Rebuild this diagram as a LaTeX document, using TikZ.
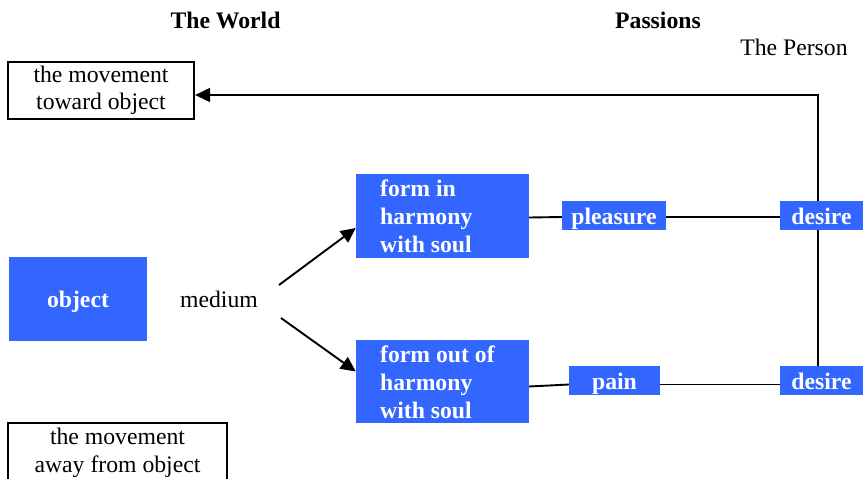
\documentclass[tikz,border=0pt]{standalone}
\usepackage{fontspec}
\setmainfont{Liberation Serif}
\usetikzlibrary{arrows.meta}
\definecolor{boxblue}{RGB}{51,102,255}
\begin{document}
\begin{tikzpicture}[x=1pt,y=-1pt,
  every node/.style={font=\fontsize{23.7}{27.5}\selectfont, inner sep=0pt},
  bluebox/.style={fill=boxblue, inner sep=0pt, text=white, font=\fontsize{23.7}{28}\selectfont\bfseries, text height=21pt, text depth=4pt},
  formbox/.style={fill=boxblue, inner sep=0pt},
  btext/.style={text=white, align=left, font=\fontsize{23.7}{28}\selectfont\bfseries},
  wbox/.style={draw=black, line width=2.2pt, inner sep=0pt, align=center},
  title/.style={font=\fontsize{23.7}{28}\selectfont\bfseries},
  conn/.style={line width=1.9pt},
  arr/.style={conn, -{Triangle[length=15pt,width=14pt]}}
]
\useasboundingbox (0,0) rectangle (863,479);

% titles
\node[title] (tw) at (225.5,20) {The World};
\node[title] (tp) at (658,20) {Passions};
\node (tpe) at (794,47) {The Person};

% white boxes
\node[wbox, minimum width=186pt, minimum height=57pt] (mt) at (101,90.5) {the movement\\toward object};
\node[wbox, minimum width=219pt, minimum height=60pt] (ma) at (117.5,453) {the movement\\away from object};

% object and medium
\node[bluebox, minimum width=138pt, minimum height=84pt] (obj) at (78,299) {object};
\node (med) at (219,299) {medium};

% form boxes
\node[formbox, minimum width=173pt, minimum height=84pt] (f1) at (442.5,216) {};
\node[btext, anchor=west] (f1t) at (380,216) {form in\\harmony\\with soul};
\node[formbox, minimum width=173pt, minimum height=83pt] (f2) at (442.5,381.5) {};
\node[btext, anchor=west] (f2t) at (380,382) {form out of\\harmony\\with soul};

% passions
\node[bluebox, minimum width=104pt, minimum height=29pt] (pl) at (614,215.5) {pleasure};
\node[bluebox, minimum width=91pt, minimum height=29pt] (pn) at (614.5,380.5) {pain};

% desires
\node[bluebox, minimum width=83pt, minimum height=29pt] (d1) at (821.5,215.5) {desire};
\node[bluebox, minimum width=83pt, minimum height=29pt] (d2) at (821.5,380.5) {desire};

% arrows from medium
\coordinate (m1) at (279,285);
\coordinate (m2) at (281,318);
\draw[arr] (m1) -- ([yshift=-12pt]f1.west);
\draw[arr] (m2) -- ([yshift=10pt]f2.west);

% passion lines
\draw[conn] ([yshift=-1.5pt]f1.east) -- ([yshift=-1.5pt]pl.west);
\draw[conn] ([yshift=-1.5pt]pl.east) -- ([yshift=-1.5pt]d1.west);
\draw[conn] ([yshift=-5pt]f2.east) -- ([yshift=-4pt]pn.west);
\draw[conn] ([yshift=-4pt]pn.east) -- ([yshift=-4pt]d2.west);

% person loop
\coordinate (c1) at (818,95);
\draw[conn] (d1.south -| c1) -- (d2.north -| c1);
\draw[arr] (d1.north -| c1) -- (c1) -- (c1 -| mt.east);
\end{tikzpicture}
\end{document}
